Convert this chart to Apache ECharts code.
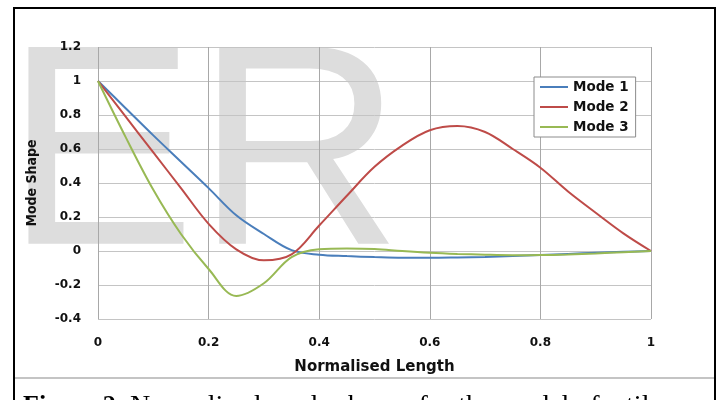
<!DOCTYPE html>
<html>
<head>
<meta charset="utf-8">
<script src="https://cdn.jsdelivr.net/npm/echarts@6/dist/echarts.min.js"></script>
<style>
    html, body { margin: 0; padding: 0; background: #fff; }
    #chart { width: 718px; height: 400px; }
</style>
</head>
<body>
<div id="chart"></div>
<script>
// normalised length positions
var xs = [0, 0.05, 0.1, 0.15, 0.2, 0.25, 0.3, 0.35, 0.4, 0.45, 0.5, 0.55, 0.6, 0.65, 0.7, 0.75, 0.8, 0.85, 0.9, 0.95, 1];
var mode1 = [1, 0.84, 0.68, 0.525, 0.37, 0.21, 0.10, 0.005, -0.022, -0.03, -0.036, -0.04, -0.04, -0.038, -0.035, -0.03, -0.024, -0.017, -0.01, -0.004, 0];
var mode2 = [1, 0.79, 0.58, 0.37, 0.16, 0.01, -0.055, -0.02, 0.15, 0.325, 0.495, 0.62, 0.71, 0.735, 0.70, 0.60, 0.49, 0.35, 0.225, 0.104, 0];
var mode3 = [1, 0.67, 0.36, 0.10, -0.106, -0.265, -0.19, -0.036, 0.01, 0.015, 0.012, 0.0, -0.01, -0.017, -0.022, -0.025, -0.024, -0.02, -0.014, -0.007, 0];
var seriesNames = ['Mode 1', 'Mode 2', 'Mode 3'];
var xTicks = [0, 0.2, 0.4, 0.6, 0.8, 1];
var yTicks = [-0.4, -0.2, 0, 0.2, 0.4, 0.6, 0.8, 1, 1.2];

function pairs(ys) {
    var out = [];
    for (var i = 0; i < xs.length; i++) {
        out.push([xs[i], ys[i]]);
    }
    return out;
}

var myChart = echarts.init(document.getElementById('chart'));
var labelFont = "'DejaVu Sans', Verdana, sans-serif";
var lineIcon = 'path://M0,0 L28,0 L28,2 L0,2 Z';

var option = {
    animation: false,
    color: ['#4a7ebb', '#be4b48', '#98b954'],
    graphic: [
        // big grey watermark behind the plot
        {
            type: 'text',
            z: -10,
            style: {
                text: 'ER',
                x: 5,
                y: 165,
                font: "286px 'Liberation Sans', Arial, sans-serif",
                fill: '#dddddd',
                verticalAlign: 'middle'
            }
        },
        // figure frame
        { type: 'line', z: 10, shape: { x1: 14, y1: 7, x2: 14, y2: 400 }, style: { stroke: '#000', lineWidth: 2 } },
        { type: 'line', z: 10, shape: { x1: 13, y1: 8, x2: 716, y2: 8 }, style: { stroke: '#000', lineWidth: 2 } },
        { type: 'line', z: 10, shape: { x1: 715, y1: 7, x2: 715, y2: 400 }, style: { stroke: '#000', lineWidth: 2 } },
        { type: 'line', z: 10, shape: { x1: 15, y1: 378, x2: 714, y2: 378 }, style: { stroke: '#c4c4c4', lineWidth: 2 } },
        // caption, cut off by the bottom edge
        {
            type: 'text',
            z: 10,
            style: {
                x: 23,
                y: 406,
                text: 'Figure 2.',
                font: "bold 26px 'Liberation Serif', 'Times New Roman', serif",
                fill: '#000',
                verticalAlign: 'middle'
            }
        },
        {
            type: 'text',
            z: 10,
            style: {
                x: 130,
                y: 407,
                text: 'Normalised mode shapes for the model of a tile',
                font: "28px 'Liberation Serif', 'Times New Roman', serif",
                fill: '#000',
                verticalAlign: 'middle'
            }
        }
    ],
    legend: {
        data: seriesNames.map(function (n) { return { name: n, icon: lineIcon }; }),
        orient: 'vertical',
        left: 534,
        top: 77,
        itemWidth: 28,
        itemHeight: 14,
        itemGap: 6,
        padding: [3, 7, 3, 6],
        borderColor: '#8c8c8c',
        borderWidth: 1,
        backgroundColor: '#fff',
        textStyle: {
            fontFamily: labelFont,
            fontWeight: 'bold',
            fontSize: 13.5,
            color: '#111'
        }
    },
    grid: {
        left: 98,
        top: 47,
        width: 553,
        height: 272
    },
    xAxis: {
        type: 'value',
        min: xTicks[0],
        max: xTicks[xTicks.length - 1],
        interval: 0.2,
        name: 'Normalised Length',
        nameLocation: 'middle',
        nameGap: 41,
        nameTextStyle: {
            fontFamily: labelFont,
            fontWeight: 'bold',
            fontSize: 15,
            color: '#111'
        },
        axisLine: { show: false },
        axisTick: { show: false },
        axisLabel: {
            margin: 18,
            fontFamily: labelFont,
            fontWeight: 'bold',
            fontSize: 12,
            color: '#111'
        },
        splitLine: { lineStyle: { color: '#a8a8a8', width: 1 } }
    },
    yAxis: {
        type: 'value',
        min: yTicks[0],
        max: yTicks[yTicks.length - 1],
        interval: 0.2,
        name: 'Mode Shape',
        nameLocation: 'middle',
        nameGap: 59,
        nameTextStyle: {
            fontFamily: "'DejaVu Sans Condensed', 'Liberation Sans', sans-serif",
            fontWeight: 'bold',
            fontSize: 14,
            color: '#111'
        },
        axisLine: { show: false },
        axisTick: { show: false },
        axisLabel: {
            margin: 17,
            fontFamily: labelFont,
            fontWeight: 'bold',
            fontSize: 12,
            color: '#111'
        },
        splitLine: { lineStyle: { color: '#c4c4c4', width: 1 } }
    },
    series: [
        { name: seriesNames[0], type: 'line', data: pairs(mode1), symbol: 'none', smooth: 0.35, lineStyle: { width: 2 } },
        { name: seriesNames[1], type: 'line', data: pairs(mode2), symbol: 'none', smooth: 0.35, lineStyle: { width: 2 } },
        { name: seriesNames[2], type: 'line', data: pairs(mode3), symbol: 'none', smooth: 0.35, lineStyle: { width: 2 } }
    ]
};

myChart.setOption(option);
</script>
</body>
</html>
